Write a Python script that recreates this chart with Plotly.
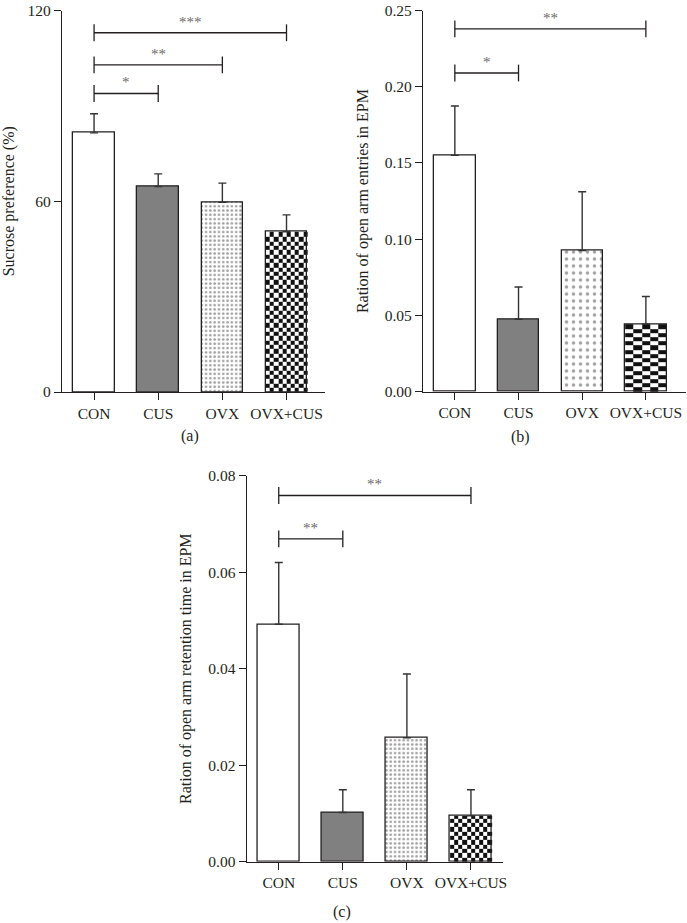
import numpy as np
import plotly.graph_objects as go

# ---------------- data ----------------
categories = ["CON", "CUS", "OVX", "OVX+CUS"]
cat_pos = [0, 1, 2, 3]

sucrose_mean = [81.5, 64.6, 59.7, 50.4]
sucrose_err = [6.0, 4.0, 6.0, 5.3]

entries_mean = [0.155, 0.0475, 0.0926, 0.0443]
entries_err = [0.0324, 0.0212, 0.0385, 0.0181]

retention_mean = [0.0492, 0.0102, 0.0257, 0.0095]
retention_err = [0.0128, 0.0047, 0.0132, 0.0054]

# significance brackets: start group, end group, bracket height, label
sucrose_sig_from = [0, 0, 0]
sucrose_sig_to = [1, 2, 3]
sucrose_sig_y = [93.9, 102.9, 113.0]
sucrose_sig_label = ["*", "**", "***"]

entries_sig_from = [0, 0]
entries_sig_to = [1, 3]
entries_sig_y = [0.209, 0.238]
entries_sig_label = ["*", "**"]

retention_sig_from = [0, 0]
retention_sig_to = [1, 3]
retention_sig_y = [0.0669, 0.0759]
retention_sig_label = ["**", "**"]

sucrose_ticks = [0, 60, 120]
entries_ticks = [0.0, 0.05, 0.10, 0.15, 0.20, 0.25]
retention_ticks = [0.0, 0.02, 0.04, 0.06, 0.08]

# ---------------- style ----------------
FONT = "Liberation Serif"
INK = "#231f20"
W, H = 687, 923
BAR_W = 0.65
TOP = 10.5  # top of the upper panels, px

bar_fill = ["#ffffff", "#808080", "#ffffff", "rgba(0,0,0,0)"]
pat_dots = dict(shape=["", "", ".", ""], fgcolor=["#000", "#000", "#333333", "#000"],
                size=[6, 6, 4.3, 6], solidity=[0.3, 0.3, 0.3, 0.3])
pat_dash = dict(shape=["", "", ".", ""], fgcolor=["#000", "#000", "#222222", "#000"],
                size=[6, 6, 7, 6], solidity=[0.3, 0.3, 0.2, 0.3])

fig = go.Figure()


def px_x(p):
    return p / W


def px_y(p):
    return 1 - p / H


def checker(xc, val, xa, ya, ncols, cell_px, px_per_unit):
    """checkerboard texture filling the bar at group position xc (height val)"""
    x_edges = np.linspace(xc - BAR_W / 2, xc + BAR_W / 2, ncols + 1)
    dy = cell_px / px_per_unit
    y_edges = np.append(np.arange(0, val - dy * 0.3, dy), val)
    nrows = len(y_edges) - 1
    z = np.add.outer(np.arange(nrows), np.arange(ncols)) % 2
    return go.Heatmap(x=x_edges, y=y_edges, z=z, zmin=0, zmax=1,
                      colorscale=[[0, "#ffffff"], [1, "#111111"]], showscale=False,
                      xaxis=xa, yaxis=ya, hoverinfo="skip")


panels = [
    ("x", "y", sucrose_mean, sucrose_err, pat_dots, 10, 4.3, (392 - TOP) / 120,
     sucrose_sig_from, sucrose_sig_to, sucrose_sig_y, sucrose_sig_label),
    ("x2", "y2", entries_mean, entries_err, pat_dash, 5, 4.2, (391.7 - TOP) / 0.25,
     entries_sig_from, entries_sig_to, entries_sig_y, entries_sig_label),
    ("x3", "y3", retention_mean, retention_err, pat_dots, 10, 4.3, 386 / 0.08,
     retention_sig_from, retention_sig_to, retention_sig_y, retention_sig_label),
]

annotations = []
for xa, ya, mean, err, pat, ncols, cell_px, ppu, sf, st, sy, sl in panels:
    fig.add_trace(checker(cat_pos[3], mean[3], xa, ya, ncols, cell_px, ppu))
    fig.add_trace(go.Bar(
        x=cat_pos, y=mean, xaxis=xa, yaxis=ya, width=BAR_W,
        marker=dict(color=bar_fill, line=dict(color=INK, width=1.3), pattern=pat),
        error_y=dict(type="data", symmetric=False, array=err, arrayminus=[0] * len(err),
                     color="#333333", thickness=1.4, width=4),
        showlegend=False, hoverinfo="skip",
    ))
    for a, b, yv, lab in zip(sf, st, sy, sl):
        fig.add_trace(go.Scatter(
            x=[a, b], y=[yv, yv], xaxis=xa, yaxis=ya, mode="lines+markers",
            line=dict(color=INK, width=1.3),
            marker=dict(symbol="line-ns-open", size=12, color=INK, line=dict(color=INK, width=1.3)),
            showlegend=False, hoverinfo="skip", cliponaxis=False,
        ))
        annotations.append(dict(
            x=(a + b) / 2, y=yv, xref=xa, yref=ya, text=lab, showarrow=False,
            yanchor="bottom", yshift=1, font=dict(family=FONT, size=15, color="#6a6a6a"),
        ))

axis_common = dict(
    showline=True, linecolor=INK, linewidth=1.3, ticks="outside", ticklen=7,
    tickcolor=INK, tickwidth=1.3, showgrid=False, zeroline=False,
    tickfont=dict(family=FONT, size=15.5, color=INK), automargin=False,
    ticklabeloverflow="allow",
)

layout = dict(
    width=W, height=H, margin=dict(l=0, r=0, t=0, b=0),
    paper_bgcolor="white", plot_bgcolor="white", bargap=0,
    font=dict(family=FONT, size=16, color=INK),
    xaxis=dict(domain=[px_x(62), px_x(325)], range=[-0.5, 3.6], anchor="y",
               tickvals=cat_pos, ticktext=categories, **axis_common),
    yaxis=dict(domain=[px_y(392), px_y(TOP)], range=[0, 120], anchor="x",
               tickvals=sucrose_ticks,
               title=dict(text="Sucrose preference (%)", standoff=10,
                          font=dict(family=FONT, size=16, color=INK)),
               **axis_common),
    xaxis2=dict(domain=[px_x(423), px_x(686)], range=[-0.5, 3.63], anchor="y2",
                tickvals=cat_pos, ticktext=categories, **axis_common),
    yaxis2=dict(domain=[px_y(391.7), px_y(TOP)], range=[0, 0.25], anchor="x2",
                tickvals=entries_ticks, tickformat=".2f",
                title=dict(text="Ration of open arm entries in EPM", standoff=12,
                           font=dict(family=FONT, size=16, color=INK)),
                **axis_common),
    xaxis3=dict(domain=[px_x(246.7), px_x(503)], range=[-0.5, 3.5], anchor="y3",
                tickvals=cat_pos, ticktext=categories, **axis_common),
    yaxis3=dict(domain=[px_y(861.7), px_y(475.7)], range=[0, 0.08], anchor="x3",
                tickvals=retention_ticks, tickformat=".2f",
                title=dict(text="Ration of open arm retention time in EPM", standoff=12,
                           font=dict(family=FONT, size=16, color=INK)),
                **axis_common),
)

panel_labels = [("(a)", 190, 436), ("(b)", 520, 437), ("(c)", 342, 912)]
for txt, px, py in panel_labels:
    annotations.append(dict(x=px_x(px), y=px_y(py), xref="paper", yref="paper", text=txt,
                            showarrow=False, xanchor="center", yanchor="middle",
                            font=dict(family=FONT, size=16, color=INK)))

layout["annotations"] = annotations
fig.update_layout(**layout)
fig.write_html("out.html", config={"displayModeBar": False},
               post_script="document.body.style.margin='0';document.body.style.padding='0';"
                           "document.body.style.overflow='hidden';")
